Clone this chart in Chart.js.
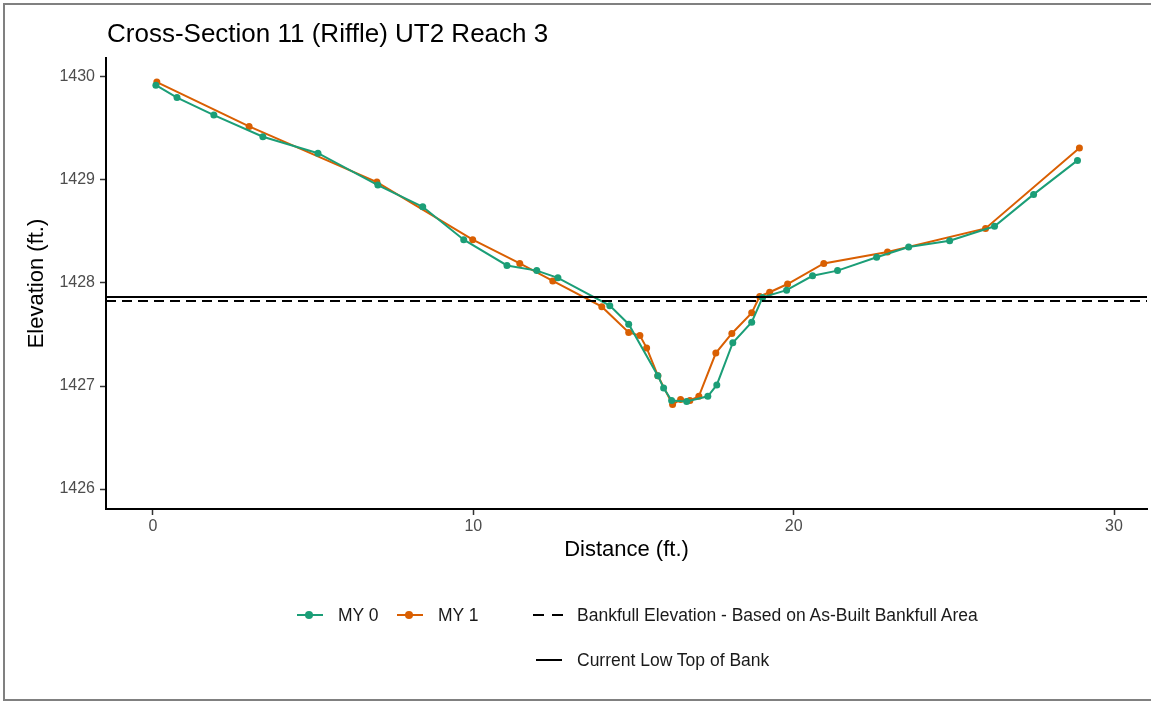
<!DOCTYPE html>
<html>
<head>
<meta charset="utf-8">
<title>Cross-Section 11 (Riffle) UT2 Reach 3</title>
<script src="https://cdn.jsdelivr.net/npm/chart.js@4.4.1/dist/chart.umd.min.js"></script>
<style>
  body { margin: 0; background: #fff; font-family: "Liberation Sans", Arial, sans-serif; }
  #wrap { position: relative; width: 1151px; height: 704px; overflow: hidden; }
  #frame { position: absolute; left: 3px; top: 3px; width: 1170px; height: 698px; border: 2px solid #808080; box-sizing: border-box; }
  #chart { position: absolute; left: 0; top: 0; }
  #title { position: absolute; left: 107px; top: 18px; font-size: 26px; line-height: 30px; color: #000; white-space: nowrap; }
  .legItem { position: absolute; height: 20px; display: flex; align-items: center; font-size: 17.5px; color: #1a1a1a; white-space: nowrap; }
  .legItem canvas { margin-right: 14px; }
</style>
</head>
<body>
<div id="wrap">
  <div id="frame"></div>
  <canvas id="chart" width="1151" height="704"></canvas>
  <div id="title">Cross-Section 11 (Riffle) UT2 Reach 3</div>
  <div id="legend"></div>
</div>
<script>
// MY 0 survey (green)
const my0Dist = [0.09, 0.75, 1.90, 3.43, 5.15, 7.02, 8.42, 9.70, 11.05, 11.98, 12.64, 14.26, 14.85,
  15.76, 15.94, 16.19, 16.66, 17.32, 17.60, 18.10, 18.69, 19.03, 19.78, 20.59, 21.37, 22.59,
  23.59, 24.87, 26.27, 27.49, 28.86];
const my0Elev = [1429.92, 1429.80, 1429.63, 1429.42, 1429.26, 1428.95, 1428.74, 1428.42, 1428.17, 1428.12, 1428.05, 1427.78, 1427.60,
  1427.10, 1426.98, 1426.86, 1426.85, 1426.90, 1427.01, 1427.42, 1427.62, 1427.86, 1427.93, 1428.07, 1428.12, 1428.25,
  1428.35, 1428.41, 1428.55, 1428.86, 1429.19];

// MY 1 survey (orange)
const my1Dist = [0.12, 3.00, 6.99, 9.98, 11.45, 12.48, 14.01, 14.85, 15.20, 15.41, 15.76, 16.22, 16.47, 16.76, 17.04,
  17.57, 18.07, 18.69, 18.94, 19.25, 19.81, 20.94, 22.93, 25.99, 28.92];
const my1Elev = [1429.95, 1429.52, 1428.98, 1428.42, 1428.19, 1428.02, 1427.77, 1427.52, 1427.49, 1427.37, 1427.10, 1426.82, 1426.87, 1426.86, 1426.90,
  1427.32, 1427.51, 1427.71, 1427.87, 1427.91, 1427.99, 1428.19, 1428.30, 1428.53, 1429.31];

const bankfullElev = 1427.825;
const lowTopElev = 1427.864;

const xTicks = [0, 10, 20, 30];
const yTicks = [1426, 1427, 1428, 1429, 1430];
const xRange = [-1.467, 31.03];
const yRange = [1425.806, 1430.184];

const green = '#1B9E77';
const orange = '#D95F02';

const toPoints = (xs, ys) => xs.map((x, i) => ({ x, y: ys[i] }));

const datasets = [
  {
    label: 'Bankfull Elevation - Based on As-Built Bankfull Area',
    data: [{ x: xRange[0], y: bankfullElev }, { x: xRange[1], y: bankfullElev }],
    borderColor: '#000', borderWidth: 2, borderDash: [10, 6], pointRadius: 0
  },
  {
    label: 'Current Low Top of Bank',
    data: [{ x: xRange[0], y: lowTopElev }, { x: xRange[1], y: lowTopElev }],
    borderColor: '#000', borderWidth: 2, pointRadius: 0
  },
  {
    label: 'MY 0',
    data: toPoints(my0Dist, my0Elev),
    borderColor: green, backgroundColor: green, borderWidth: 2,
    pointRadius: 3.5, pointBorderWidth: 0
  },
  {
    label: 'MY 1',
    data: toPoints(my1Dist, my1Elev),
    borderColor: orange, backgroundColor: orange, borderWidth: 2,
    pointRadius: 3.5, pointBorderWidth: 0
  }
];

const font = '"Liberation Sans", Arial, sans-serif';

new Chart(document.getElementById('chart'), {
  type: 'line',
  data: { datasets },
  options: {
    responsive: false,
    animation: false,
    devicePixelRatio: 1,
    layout: { padding: { top: 58, left: 10, right: 4, bottom: 135 } },
    plugins: {
      legend: { display: false },
      tooltip: { enabled: false }
    },
    scales: {
      x: {
        type: 'linear',
        min: xRange[0],
        max: xRange[1],
        afterBuildTicks: axis => { axis.ticks = xTicks.map(v => ({ value: v })); },
        afterFit: axis => { axis.height = 60; },
        grid: { display: true, drawOnChartArea: false, drawTicks: true, tickLength: 6, tickWidth: 1.5, color: '#333' },
        border: { display: true, color: '#000', width: 2 },
        ticks: { color: '#4d4d4d', font: { family: font, size: 16 }, padding: 2, maxRotation: 0 },
        title: { display: true, text: 'Distance (ft.)', color: '#000', font: { family: font, size: 22 }, padding: { top: 0, bottom: 6 } }
      },
      y: {
        type: 'linear',
        min: yRange[0],
        max: yRange[1],
        afterBuildTicks: axis => { axis.ticks = yTicks.map(v => ({ value: v })); },
        afterFit: axis => { axis.width = 96; },
        grid: { display: true, drawOnChartArea: false, drawTicks: true, tickLength: 6, tickWidth: 1.5, color: '#333' },
        border: { display: true, color: '#000', width: 2 },
        ticks: { color: '#4d4d4d', font: { family: font, size: 16 }, padding: 5, callback: v => String(v) },
        title: { display: true, text: 'Elevation (ft.)', color: '#000', font: { family: font, size: 22 }, padding: { top: 14, bottom: 0 } }
      }
    }
  }
});

// legend drawn as HTML below the plot
const legendSpec = [
  { ds: 2, left: 294, top: 605, kind: 'point' },
  { ds: 3, left: 394, top: 605, kind: 'point' },
  { ds: 0, left: 533, top: 605, kind: 'dash' },
  { ds: 1, left: 533, top: 650, kind: 'solid' }
];
const legendEl = document.getElementById('legend');
legendSpec.forEach(item => {
  const ds = datasets[item.ds];
  const div = document.createElement('div');
  div.className = 'legItem';
  div.style.left = item.left + 'px';
  div.style.top = item.top + 'px';
  const c = document.createElement('canvas');
  c.width = 30; c.height = 20;
  c.style.width = '30px'; c.style.height = '20px';
  const ctx = c.getContext('2d');
  ctx.strokeStyle = ds.borderColor;
  ctx.lineWidth = 2;
  if (item.kind === 'dash') ctx.setLineDash([11, 8]);
  ctx.beginPath();
  ctx.moveTo(item.kind === 'dash' ? 0 : 3, 10);
  ctx.lineTo(item.kind === 'dash' ? 30 : 29, 10);
  ctx.stroke();
  if (item.kind === 'point') {
    ctx.fillStyle = ds.borderColor;
    ctx.beginPath();
    ctx.arc(15, 10, 4, 0, Math.PI * 2);
    ctx.fill();
  }
  div.appendChild(c);
  const span = document.createElement('span');
  span.textContent = ds.label;
  div.appendChild(span);
  legendEl.appendChild(div);
});
</script>
</body>
</html>
